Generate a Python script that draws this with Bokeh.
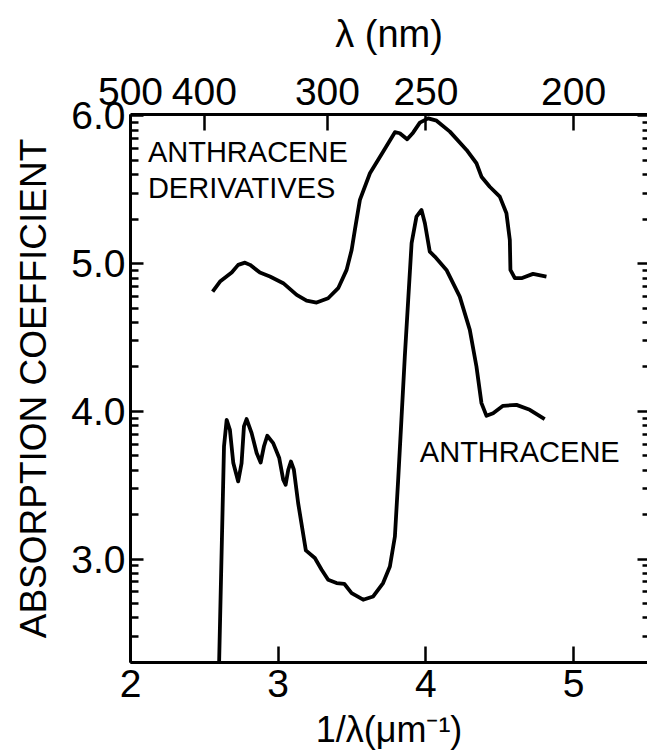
import math
from bokeh.plotting import figure
from bokeh.models import Range1d, LinearAxis, FixedTicker, Label
from bokeh.embed import file_html
from bokeh.resources import INLINE

# ---- data (x = 1/lambda in um^-1, y = log10 absorption coefficient) ----
anth_x = [2.600, 2.633, 2.651, 2.673, 2.696, 2.729, 2.752, 2.768, 2.786, 2.820,
          2.854, 2.881, 2.903, 2.926, 2.966, 3.007, 3.034, 3.050, 3.068, 3.086,
          3.106, 3.135, 3.187, 3.248, 3.294, 3.338, 3.395, 3.447, 3.497, 3.575,
          3.643, 3.710, 3.756, 3.790, 3.812, 3.834, 3.857, 3.880, 3.903, 3.936,
          3.970, 3.993, 4.026, 4.060, 4.139, 4.229, 4.297, 4.342, 4.376, 4.410,
          4.455, 4.522, 4.613, 4.703, 4.804]
anth_y = [2.300, 3.762, 3.943, 3.875, 3.650, 3.526, 3.650, 3.898, 3.948, 3.853,
          3.718, 3.654, 3.762, 3.835, 3.785, 3.684, 3.537, 3.503, 3.605, 3.661,
          3.605, 3.379, 3.059, 3.007, 2.928, 2.860, 2.838, 2.833, 2.770, 2.725,
          2.747, 2.838, 2.950, 3.153, 3.537, 3.943, 4.371, 4.755, 5.139, 5.319,
          5.364, 5.274, 5.082, 5.048, 4.958, 4.777, 4.552, 4.304, 4.056, 3.970,
          3.988, 4.038, 4.044, 4.011, 3.948]

deriv_x = [2.556, 2.606, 2.685, 2.729, 2.775, 2.809, 2.876, 2.944, 3.034, 3.125,
           3.192, 3.260, 3.338, 3.406, 3.463, 3.497, 3.519, 3.553, 3.621, 3.710,
           3.790, 3.823, 3.873, 3.913, 3.959, 4.015, 4.072, 4.162, 4.275, 4.342,
           4.376, 4.432, 4.500, 4.545, 4.568, 4.572, 4.602, 4.647, 4.725, 4.816]
deriv_y = [4.811, 4.879, 4.940, 4.992, 5.007, 4.992, 4.940, 4.913, 4.868, 4.789,
           4.750, 4.737, 4.766, 4.834, 4.958, 5.093, 5.229, 5.432, 5.612, 5.758,
           5.890, 5.883, 5.842, 5.887, 5.955, 5.984, 5.968, 5.894, 5.770, 5.680,
           5.589, 5.521, 5.454, 5.342, 5.161, 4.958, 4.902, 4.902, 4.931, 4.913]

x_ticks = [2, 3, 4, 5]
y_ticks = [3, 4, 5, 6]
wavelength_nm = [500, 400, 300, 250, 200]

FONT = "Liberation Sans"
X_END = 5.5

p = figure(width=647, height=752, output_backend="svg", toolbar_location=None,
           x_range=Range1d(2.0, X_END), y_range=Range1d(2.30, 6.01),
           min_border_left=130, min_border_right=0, min_border_top=114,
           min_border_bottom=89)
p.grid.visible = False
p.outline_line_color = None
p.background_fill_color = "white"
p.border_fill_color = "white"

p.line(anth_x, anth_y, line_color="black", line_width=3.8, line_join="round")
p.line(deriv_x, deriv_y, line_color="black", line_width=3.8, line_join="round")

minor_y = [n + math.log10(k) for n in range(2, 6) for k in range(2, 10)]

def style_axis(ax, tick_in, minor_in):
    ax.axis_line_width = 3
    ax.axis_line_color = "black"
    ax.major_tick_in = tick_in
    ax.major_tick_out = 0
    ax.minor_tick_in = minor_in
    ax.minor_tick_out = 0
    ax.major_tick_line_width = 2.5
    ax.minor_tick_line_width = 2.5
    ax.major_label_text_font = FONT
    ax.major_label_text_color = "black"
    ax.axis_label_text_font = FONT
    ax.axis_label_text_font_style = "normal"
    ax.axis_label_text_color = "black"

# bottom axis
xb = p.xaxis[0]
xb.ticker = FixedTicker(ticks=x_ticks)
style_axis(xb, 16, 0)
xb.major_label_text_font_size = "39px"
xb.major_label_standoff = 7
xb.axis_label = "1/λ(μm⁻¹)"
xb.axis_label_text_font_size = "36px"
xb.axis_label_standoff = 9

# left axis
yl = p.yaxis[0]
yl.ticker = FixedTicker(ticks=y_ticks, minor_ticks=minor_y)
style_axis(yl, 13, 8)
yl.major_label_text_font_size = "39px"
yl.major_label_standoff = 5
yl.major_label_overrides = {t: f"{t:.1f}" for t in y_ticks}
yl.axis_label = "ABSORPTION COEFFICIENT"
yl.axis_label_text_font_size = "37px"
yl.axis_label_standoff = 14

# top axis (wavelength)
top_pos = [1000.0 / w for w in wavelength_nm]
xt = LinearAxis(ticker=FixedTicker(ticks=top_pos))
style_axis(xt, 16, 0)
xt.major_label_overrides = {t: str(w) for t, w in zip(top_pos, wavelength_nm)}
xt.major_label_text_font_size = "39px"
xt.major_label_standoff = 10
xt.axis_label = "λ (nm)"
xt.axis_label_text_font_size = "38px"
xt.axis_label_standoff = 20
p.add_layout(xt, "above")

# right axis (ticks only; pinned at the range end, spine falls at the picture edge)
yr = LinearAxis(ticker=FixedTicker(ticks=y_ticks, minor_ticks=minor_y),
                fixed_location=X_END)
style_axis(yr, 10, 5)
yr.axis_line_color = None
yr.major_label_overrides = {t: "" for t in y_ticks}
yr.major_label_text_font_size = "1px"
yr.major_label_standoff = 0
yr.axis_label_standoff = 0
p.add_layout(yr, "right")

p.add_layout(Label(x=2.118, y=5.756, text="ANTHRACENE", text_baseline="middle",
                   text_font=FONT, text_font_size="29px", text_color="black"))
p.add_layout(Label(x=2.118, y=5.513, text="DERIVATIVES", text_baseline="middle",
                   text_font=FONT, text_font_size="29px", text_color="black"))
p.add_layout(Label(x=3.959, y=3.726, text="ANTHRACENE", text_baseline="middle",
                   text_font=FONT, text_font_size="29px", text_color="black"))

open("out.html", "w").write(file_html(p, INLINE))
